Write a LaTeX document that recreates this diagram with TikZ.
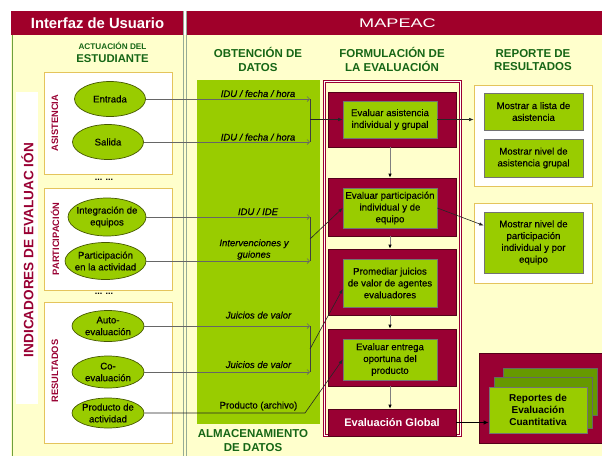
\documentclass[tikz,border=0pt]{standalone}
\usepackage{fontspec}
\setmainfont{Liberation Sans}
\newfontfamily\medfont[FakeBold=0.35]{Liberation Sans}
\usetikzlibrary{arrows.meta,shapes.geometric,calc}

\definecolor{dred}{RGB}{153,0,51}
\definecolor{hdred}{RGB}{160,0,42}
\definecolor{rededge}{RGB}{85,0,25}
\definecolor{cream}{RGB}{255,255,204}
\definecolor{lgreen}{RGB}{153,204,0}
\definecolor{mgreen}{RGB}{102,153,0}
\definecolor{tgreen}{RGB}{22,102,22}
\definecolor{gold}{RGB}{228,196,92}
\definecolor{sepgray}{RGB}{150,172,150}
\definecolor{edgegreen}{RGB}{110,160,60}
\definecolor{olive}{RGB}{70,88,0}

\newcommand{\boxfont}{\medfont\fontsize{9.6}{11.8}\selectfont}

\tikzset{
  grpbox/.style={draw=gold, line width=0.8pt, fill=white, minimum width=128pt, inner sep=0pt},
  ell/.style={ellipse, draw=olive, fill=lgreen, line width=0.7pt, inner xsep=-5pt, inner ysep=-3pt,
              align=center, font=\boxfont},
  redbox/.style={draw=rededge, fill=dred, line width=0.6pt, minimum width=128pt, inner sep=0pt},
  gbox/.style={draw=black!55, fill=lgreen, line width=0.6pt, align=center, font=\boxfont, inner sep=0pt},
  heading/.style={font=\bfseries\fontsize{11.5}{13.6}\selectfont, text=tgreen, align=center},
  vlabel/.style={rotate=90, font=\bfseries\fontsize{9.3}{11}\selectfont, text=dred},
  lbl/.style={font=\medfont\itshape\fontsize{9.5}{11.5}\selectfont, inner sep=0pt, align=center},
  feed/.style={draw=black!60, line width=0.7pt, -{Straight Barb[length=2.5pt,width=5pt]}},
  brk/.style={draw=black!75, line width=0.6pt},
  into/.style={draw=black!85, line width=0.6pt, -{Latex[length=4.5pt,width=3.5pt]}},
  flow/.style={draw=black!50, line width=0.8pt, -{Latex[length=4pt,width=3.5pt,color=black]}},
  bigflow/.style={draw=black, line width=1.6pt, -{Latex[length=5pt,width=4.5pt]}},
}

\begin{document}
\begin{tikzpicture}[x=1pt,y=-1pt]
\useasboundingbox (0,0) rectangle (602,456);

% backdrop, title bars and column separators
\fill[white] (0,0) rectangle (602,456);
\fill[cream] (11,35) rectangle (602,456);
\fill[hdred] (11,11) rectangle (183,35);
\fill[hdred] (187,11) rectangle (602,35);
\draw[edgegreen, line width=0.8pt] (12,35) -- (12,456);
\draw[sepgray, line width=0.8pt] (183.5,11) -- (183.5,456);
\draw[sepgray, line width=0.8pt] (186.8,11) -- (186.8,456);

\node[font=\bfseries\fontsize{14.8}{17}\selectfont, text=white] (tiu) at (97.5,23) {Interfaz de Usuario};
\node[font=\fontsize{12.5}{14}\selectfont, text=white] (tmap) at (397.5,23.5) {\scalebox{1.45}[1]{MAPEAC}};

% column headings
\node[text=tgreen, align=center, font=\bfseries] (hact) at (112.5,52.5)
  {{\fontsize{8.2}{10}\selectfont ACTUACIÓN DEL}\\[1pt]{\fontsize{11.3}{13}\selectfont ESTUDIANTE}};
\node[heading] (hobt) at (258,59.5) {OBTENCIÓN DE\\DATOS};
\node[heading] (hfor) at (392,59.5) {FORMULACIÓN DE\\LA EVALUACIÓN};
\node[heading] (hrep) at (533,60) {REPORTE DE\\RESULTADOS};

% indicator strip
\fill[white] (16,92) rectangle (38,404);
\node[rotate=90, font=\bfseries\fontsize{13.6}{15}\selectfont, text=dred] (tind) at (27.5,250)
  {INDICADORES DE EVALUAC IÓN};

% indicator groups
\node[grpbox, minimum height=102pt] (ga) at (108,123) {};
\node[grpbox, minimum height=102pt] (gp) at (108,239) {};
\node[grpbox, minimum height=141pt] (gr) at (108,372.5) {};
\node[font=\bfseries\fontsize{9}{10}\selectfont] (dots1) at (104,180) {... ...};
\node[font=\bfseries\fontsize{9}{10}\selectfont] (dots2) at (104,294) {... ...};
\node[vlabel] (vas) at (55,123) {ASISTENCIA};
\node[vlabel] (vpa) at (55,239) {PARTICIPACIÓN};
\node[vlabel] (vre) at (55,371) {RESULTADOS};

% student actions
\node[ell, minimum width=71pt, minimum height=35pt] (e1) at (110,99) {Entrada};
\node[ell, minimum width=71pt, minimum height=35pt] (e2) at (108,142) {Salida};
\node[ell, minimum width=78pt, minimum height=38pt] (e3) at (107,217) {Integración de\\equipos};
\node[ell, minimum width=81pt, minimum height=37pt] (e4) at (105.5,261) {Participación\\en la actividad};
\node[ell, minimum width=72pt, minimum height=31pt] (e5) at (108,326) {Auto-\\evaluación};
\node[ell, minimum width=72pt, minimum height=32pt] (e6) at (108,372) {Co-\\evaluación};
\node[ell, minimum width=72pt, minimum height=30pt] (e7) at (108,413) {Producto de\\actividad};

% data storage column
\node[fill=lgreen, minimum width=123pt, minimum height=344pt, inner sep=0pt] (datos) at (258.5,252) {};
\node[heading] (halm) at (253,440.5) {ALMACENAMIENTO\\DE DATOS};

% evaluation frame and steps
\node[draw=dred, double=white, double distance=1.4pt, line width=0.7pt,
      minimum width=136pt, minimum height=354pt, inner sep=0pt] (form) at (392.5,258.5) {};
\node[redbox, minimum height=55pt] (r1) at (392,119.5) {};
\node[redbox, minimum height=58pt] (r2) at (392,207) {};
\node[redbox, minimum height=66pt] (r3) at (392,282) {};
\node[redbox, minimum height=57pt] (r4) at (392,357.5) {};
\node[redbox, minimum height=27pt, text=white, font=\bfseries\fontsize{11}{13}\selectfont] (r5) at (392,422.5) {Evaluación Global};
\node[gbox, minimum width=94pt, minimum height=37pt] (g1) at (390,119.5) {Evaluar asistencia\\individual y grupal};
\node[gbox, minimum width=94pt, minimum height=40pt] (g2) at (390,208) {Evaluar participación\\individual y de\\equipo};
\node[gbox, minimum width=94pt, minimum height=48pt] (g3) at (390,283) {Promediar juicios\\de valor de agentes\\evaluadores};
\node[gbox, minimum width=94pt, minimum height=41pt] (g4) at (390,359.5) {Evaluar entrega\\oportuna del\\producto};

% result reports
\node[grpbox, minimum width=118pt, minimum height=101pt] (w1) at (533,135.5) {};
\node[grpbox, minimum width=118pt, minimum height=80pt] (w2) at (533,243) {};
\node[gbox, minimum width=99pt, minimum height=37pt] (ra) at (533.5,111.5) {Mostrar a lista de\\asistencia};
\node[gbox, minimum width=99pt, minimum height=38pt] (rb) at (533.5,158) {Mostrar nivel de\\asistencia grupal};
\node[gbox, minimum width=99pt, minimum height=61pt] (rc) at (533.5,242.5) {Mostrar nivel de\\participación\\individual y por\\equipo};

\node[fill=dred, draw=rededge, line width=0.6pt, minimum width=124pt, minimum height=90pt, inner sep=0pt] (rq) at (541,398) {};
\node[fill=mgreen, draw=black!60, line width=0.6pt, minimum width=94pt, minimum height=47pt, inner sep=0pt] (rqb) at (550,391.5) {};
\node[fill=mgreen, draw=black!60, line width=0.6pt, minimum width=98pt, minimum height=51pt, inner sep=0pt] (rqm) at (543,402.5) {};
\node[gbox, minimum width=98pt, minimum height=46pt, font=\bfseries\fontsize{10}{12}\selectfont] (rep) at (538,410)
  {Reportes de\\Evaluación\\Cuantitativa};

% bracket junctions
\coordinate (k1a) at (310,99);  \coordinate (k1b) at (310,142); \coordinate (k1m) at (310,119.5);
\coordinate (k2a) at (310,217); \coordinate (k2b) at (310,261); \coordinate (k2m) at (310,239);
\coordinate (k3a) at (310,326); \coordinate (k3b) at (310,372); \coordinate (k3m) at (310,349);
\coordinate (k4) at (305,413);

% captured data
\draw[feed] (e1.east) -- (k1a);
\draw[feed] (e2.east) -- (k1b);
\draw[feed] (e3.east) -- (k2a);
\draw[feed] (e4.east) -- (k2b);
\draw[feed] (e5.east) -- (k3a);
\draw[feed] (e6.east) -- (k3b);
\draw[brk] (k1a) -- (k1b);
\draw[brk] (k2a) -- (k2b);
\draw[brk] (k3a) -- (k3b);

\node[lbl, anchor=base] (l1) at (258,97) {IDU / fecha / hora};
\node[lbl, anchor=base] (l2) at (258,140.5) {IDU / fecha / hora};
\node[lbl, anchor=base] (l3) at (258,215) {IDU / IDE};
\node[lbl] (l4) at (254,249.5) {Intervenciones y\\guiones};
\node[lbl, anchor=base] (l5) at (258.5,318.5) {Juicios de valor};
\node[lbl, anchor=base] (l6) at (258.5,368) {Juicios de valor};
\node[lbl, anchor=base, font=\medfont\upshape\fontsize{9.5}{11.5}\selectfont] (l7) at (258.5,408.5) {Producto (archivo)};

% into the evaluation steps
\draw[into] (k1m) -- (g1.west);
\draw[into] (k2m) -- (g2.west);
\draw[into] (k3m) -- ($(g3.west)+(0,6)$);
\draw[into] (e7.east) -- (k4) -- (g4.west);

% sequence of steps
\draw[flow] (r1.south -| g1) -- (r2.north -| g1);
\draw[flow] (r2.south -| g1) -- (r3.north -| g1);
\draw[flow] (r3.south -| g1) -- (r4.north -| g1);
\draw[flow] (r4.south -| g1) -- (r5.north -| g1);

% towards the reports
\draw[into] (g1.east) -- (g1.east -| w1.west);
\draw[into] (g2.east) -- ($(rc.west)+(0,-17)$);
\draw[bigflow] (r5.east) -- (r5.east -| rep.west);

\end{tikzpicture}
\end{document}
